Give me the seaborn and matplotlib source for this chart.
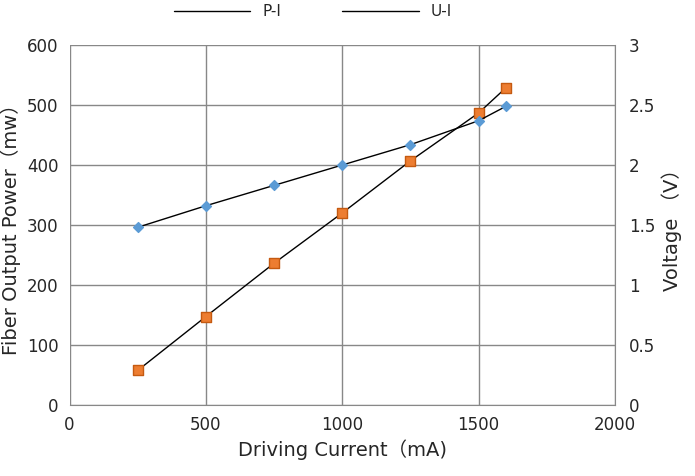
import seaborn as sns
import matplotlib.pyplot as plt

current = [250, 500, 750, 1000, 1250, 1500, 1600]
power = [57, 147, 236, 320, 407, 487, 529]
voltage = [1.48, 1.66, 1.83, 2.0, 2.17, 2.37, 2.49]

sns.set_style("white")
plt.rcParams["font.family"] = ["DejaVu Sans", "Noto Sans CJK SC"]

fig, ax = plt.subplots(figsize=(6.95, 4.76), dpi=100)
fig.subplots_adjust(left=0.1, right=0.885, top=0.905, bottom=0.15)
ax2 = ax.twinx()

sns.lineplot(x=current, y=power, ax=ax, color="black", linewidth=1, label="P-I", legend=False)
ax.scatter(current, power, marker="s", s=55, color="#ED7D31", edgecolor="#C55A11", zorder=3)
sns.lineplot(x=current, y=voltage, ax=ax2, color="black", linewidth=1, label="U-I", legend=False)
ax2.scatter(current, voltage, marker="D", s=25, color="#5B9BD5", zorder=3)

ax.set_xlim(0, 2000)
ax.set_ylim(0, 600)
ax2.set_ylim(0, 3)
ax.set_xticks(range(0, 2001, 500))
ax.set_yticks(range(0, 601, 100))
ax2.set_yticks([0, 0.5, 1, 1.5, 2, 2.5, 3])
ax2.set_yticklabels(["0", "0.5", "1", "1.5", "2", "2.5", "3"])
ax.grid(True, color="#888888", linewidth=1)
for a in (ax, ax2):
    for s in a.spines.values():
        s.set_visible(False)
    a.tick_params(labelsize=12, length=0)
ax.tick_params(axis="x", pad=8)
ax2.tick_params(axis="y", pad=10)
ax.tick_params(axis="y", pad=8)
ax.spines["bottom"].set_visible(True)
ax.spines["bottom"].set_color("#888888")
ax2.spines["right"].set_visible(True)
ax2.spines["right"].set_color("#888888")

ax.set_xlabel("Driving Current（mA)", fontsize=14)
ax.set_ylabel("Fiber Output Power（mw）", fontsize=14)
ax2.set_ylabel("Voltage （V）", fontsize=14)

h1, l1 = ax.get_legend_handles_labels()
h2, l2 = ax2.get_legend_handles_labels()
fig.legend(h1 + h2, l1 + l2, loc="upper center", ncol=2, frameon=False,
           fontsize=11, bbox_to_anchor=(0.45, 1.02), columnspacing=4, handlelength=5)

fig.savefig("out.png", dpi=100)
